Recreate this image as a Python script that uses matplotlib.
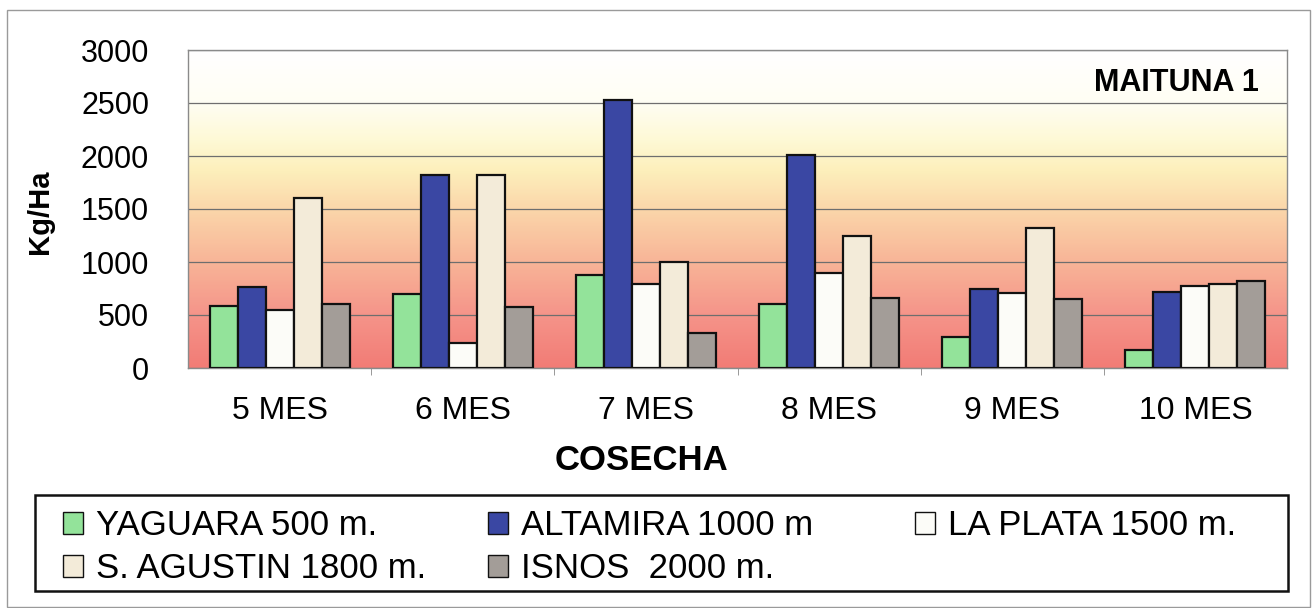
import numpy as np
import matplotlib
matplotlib.use('Agg')
import matplotlib.pyplot as plt
from matplotlib.colors import LinearSegmentedColormap
from matplotlib.patches import Rectangle

plt.rcParams['font.family'] = ['Liberation Sans', 'DejaVu Sans']

# data
meses = ['5 MES', '6 MES', '7 MES', '8 MES', '9 MES', '10 MES']
yaguara = [585, 700, 880, 605, 290, 170]
altamira = [765, 1820, 2530, 2005, 750, 715]
la_plata = [550, 235, 790, 900, 705, 770]
s_agustin = [1600, 1820, 1000, 1250, 1320, 795]
isnos = [605, 580, 330, 660, 650, 820]

series = [yaguara, altamira, la_plata, s_agustin, isnos]
labels = ['YAGUARA 500 m.', 'ALTAMIRA 1000 m', 'LA PLATA 1500 m.',
          'S. AGUSTIN 1800 m.', 'ISNOS  2000 m.']
colors = ['#93e39a', '#3a47a3', '#fcfcf8', '#f3ebd9', '#a39d98']

W, H = 1316, 608
fig = plt.figure(figsize=(W / 100, H / 100), dpi=100)
ax = fig.add_axes([188 / W, 240 / H, 1099 / W, 318 / H])

# background gradient of the plot area
bg = LinearSegmentedColormap.from_list('bg', [
    (0.0, '#f27c76'), (0.17, '#f5958a'), (0.33, '#f8b497'),
    (0.5, '#fbd6aa'), (0.62, '#fdefbb'), (0.72, '#fef9d6'),
    (0.84, '#fffef4'), (1.0, '#ffffff')])
grad = np.linspace(1, 0, 300).reshape(-1, 1)
ax.imshow(grad, extent=[-0.5, 5.5, 0, 3000], aspect='auto', cmap=bg, zorder=0)

x = np.arange(len(meses))
w = 0.153
bars = []
for k, (vals, lab, c) in enumerate(zip(series, labels, colors)):
    b = ax.bar(x + (k - 2) * w, vals, width=w, color=c, edgecolor='#111111',
               linewidth=1.6, label=lab, zorder=3)
    bars.append(b)

ax.set_xlim(-0.5, 5.5)
ax.set_ylim(0, 3000)
ax.set_yticks(range(0, 3001, 500))
ax.yaxis.grid(True, color='#6e6e6e', linewidth=0.9, zorder=1)
ax.set_xticks(x)
ax.set_xticklabels(meses)
ax.set_xticks(np.arange(0.5, 5.5, 1), minor=True)
ax.tick_params(axis='x', which='major', length=0, pad=20, labelsize=23)
ax.tick_params(axis='x', which='minor', length=5, color='#888888')
ax.tick_params(axis='y', length=0, pad=28, labelsize=22)
for s in ax.spines.values():
    s.set_color('#8a8a8a')
    s.set_linewidth(1.0)

ax.text(0.899, 2690, 'MAITUNA 1', ha='center', va='center',
        fontsize=22, fontweight='bold', transform=ax.get_yaxis_transform())

fig.text(40 / W, 0.651, 'Kg/Ha', rotation=90, ha='center', va='center',
         fontsize=21, fontweight='bold')
fig.text(642 / W, (H - 461) / H, 'COSECHA', ha='center', va='center',
         fontsize=25, fontweight='bold')

# legend: three columns placed separately, row-major order
cols = [([0, 3], 63), ([1, 4], 488), ([2], 915)]
for idx, xpix in cols:
    leg = fig.legend([bars[i] for i in idx], [labels[i] for i in idx],
                     loc='upper left', bbox_to_anchor=(xpix / W, (H - 509) / H),
                     frameon=False, fontsize=25, handlelength=0.58,
                     handleheight=0.58, handletextpad=0.38, labelspacing=0.3,
                     borderpad=0, borderaxespad=0)
    for p in leg.legend_handles:
        p.set_linewidth(1.0)

fig.patches.append(Rectangle((35 / W, 17 / H), 1253 / W, 96 / H,
                             transform=fig.transFigure, fill=False,
                             edgecolor='#111111', linewidth=1.8))
fig.patches.append(Rectangle((7 / W, 1 / H), 1303 / W, 597 / H,
                             transform=fig.transFigure, fill=False,
                             edgecolor='#9a9a9a', linewidth=1.0))

fig.savefig('out.png', dpi=100)
